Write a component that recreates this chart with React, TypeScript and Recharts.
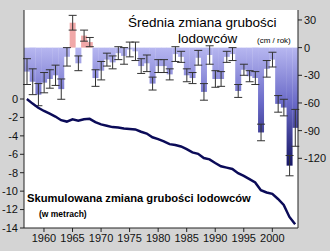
import React from "react";
import { ComposedChart, Bar, Line, XAxis, YAxis, ErrorBar, Cell } from "recharts";

// mass balance years
const years = [
  1957, 1958, 1959, 1960, 1961, 1962, 1963, 1964, 1965, 1966, 1967, 1968,
  1969, 1970, 1971, 1972, 1973, 1974, 1975, 1976, 1977, 1978, 1979, 1980,
  1981, 1982, 1983, 1984, 1985, 1986, 1987, 1988, 1989, 1990, 1991, 1992,
  1993, 1994, 1995, 1996, 1997, 1998, 1999, 2000, 2001, 2002, 2003, 2004,
];

// cm / rok
const annualChange = [
  -26, -37, -51, -38, -34, -30, -45, -10, 27, -17, 13, 6,
  -33, -25, -13, -16, -6, -9, -2, -4, -20, -17, -39, -20,
  -20, -29, -7, -10, -30, -33, -11, -48, -8, -34, -34, -10,
  -7, -47, -24, -31, -33, -92, -23, -13, -61, -65, -128, -87,
];

const annualError = [
  14, 14, 12, 11, 10, 11, 11, 10, 8, 8, 6, 5,
  9, 10, 7, 7, 7, 9, 8, 10, 8, 9, 7, 7,
  7, 6, 8, 6, 7, 6, 8, 9, 10, 9, 8, 6,
  7, 7, 6, 6, 7, 9, 9, 8, 9, 9, 11, 20,
];

// metry
const cumulative = [
  0, -0.5, -0.95, -1.3, -1.6, -1.9, -2.3, -2.45, -2.2, -2.35, -2.2, -2.15,
  -2.5, -2.75, -2.9, -3.05, -3.1, -3.2, -3.25, -3.3, -3.55, -3.75, -4.15, -4.35,
  -4.6, -4.9, -5.0, -5.15, -5.45, -5.8, -5.95, -6.4, -6.55, -6.95, -7.3, -7.45,
  -7.6, -8.05, -8.35, -8.7, -9.05, -9.9, -10.15, -10.3, -10.85, -11.5, -12.8, -13.6,
];

const yearTicks = [1960, 1965, 1970, 1975, 1980, 1985, 1990, 1995, 2000];
const cumTicks = [0, -2, -4, -6, -8, -10, -12, -14];
const rateTicks = [30, 0, -30, -60, -90, -120];

const chartData = years.map((year, i) => ({
  year,
  rate: annualChange[i],
  err: annualError[i],
  cum: cumulative[i],
}));

const font = "'Liberation Sans', Arial, sans-serif";
const tickStyle = { fontSize: 11, fill: "#111", fontFamily: font };

export default function App() {
  return (
    <div
      style={{
        position: "absolute",
        left: 0,
        top: 0,
        width: 330,
        height: 251,
        background: "#d4d4d4",
      }}
    >
      <ComposedChart
        width={330}
        height={251}
        data={chartData}
        barCategoryGap={0}
        margin={{ top: 10, right: 0, bottom: 0, left: 0 }}
      >
        <defs>
          <linearGradient id="blueBars" x1="0" y1="48" x2="0" y2="170" gradientUnits="userSpaceOnUse">
            <stop offset="0%" stopColor="#b6b6f0" />
            <stop offset="45%" stopColor="#6a6ac8" />
            <stop offset="100%" stopColor="#10105e" />
          </linearGradient>
        </defs>
        <rect x={24} y={10} width={274} height={218} fill="#ffffff" />
        <XAxis
          dataKey="year"
          ticks={yearTicks}
          interval={0}
          height={23}
          tick={tickStyle}
          tickSize={4}
          tickMargin={2}
          stroke="#222"
        />
        <XAxis xAxisId="top" dataKey="year" orientation="top" height={0} tick={false} tickLine={false} stroke="#222" />
        <YAxis
          yAxisId="cum"
          orientation="left"
          width={24}
          domain={[-14, 9.66]}
          ticks={cumTicks}
          tick={tickStyle}
          tickSize={4}
          tickMargin={2}
          stroke="#222"
          allowDataOverflow
        />
        <YAxis
          yAxisId="rate"
          orientation="right"
          width={32}
          domain={[-195.6, 40.8]}
          ticks={rateTicks}
          tick={tickStyle}
          tickSize={4}
          tickMargin={2}
          stroke="#222"
          allowDataOverflow
        />
        <Bar dataKey="rate" yAxisId="rate" isAnimationActive={false}>
          {chartData.map((d) => (
            <Cell key={d.year} fill={d.rate > 0 ? "#f1a8a8" : "url(#blueBars)"} />
          ))}
          <ErrorBar dataKey="err" width={4} stroke="#333" strokeWidth={1} direction="y" />
        </Bar>
        <Line
          type="linear"
          dataKey="cum"
          yAxisId="cum"
          stroke="#0b0b58"
          strokeWidth={2.5}
          dot={false}
          isAnimationActive={false}
        />
      </ComposedChart>
      <svg
        width={330}
        height={251}
        style={{ position: "absolute", left: 0, top: 0, pointerEvents: "none" }}
      >
        <g fontFamily={font} fill="#000">
          <text x={128} y={27} fontSize={13.5}>Średnia zmiana grubości</text>
          <text x={178} y={43} fontSize={13.5}>lodowców</text>
          <text x={257} y={43} fontSize={8}>(cm / rok)</text>
          <text x={27} y={202} fontSize={11.2} fontWeight="bold">Skumulowana zmiana grubości lodowców</text>
          <text x={39} y={217} fontSize={8.5} fontWeight="bold">(w metrach)</text>
        </g>
      </svg>
    </div>
  );
}
